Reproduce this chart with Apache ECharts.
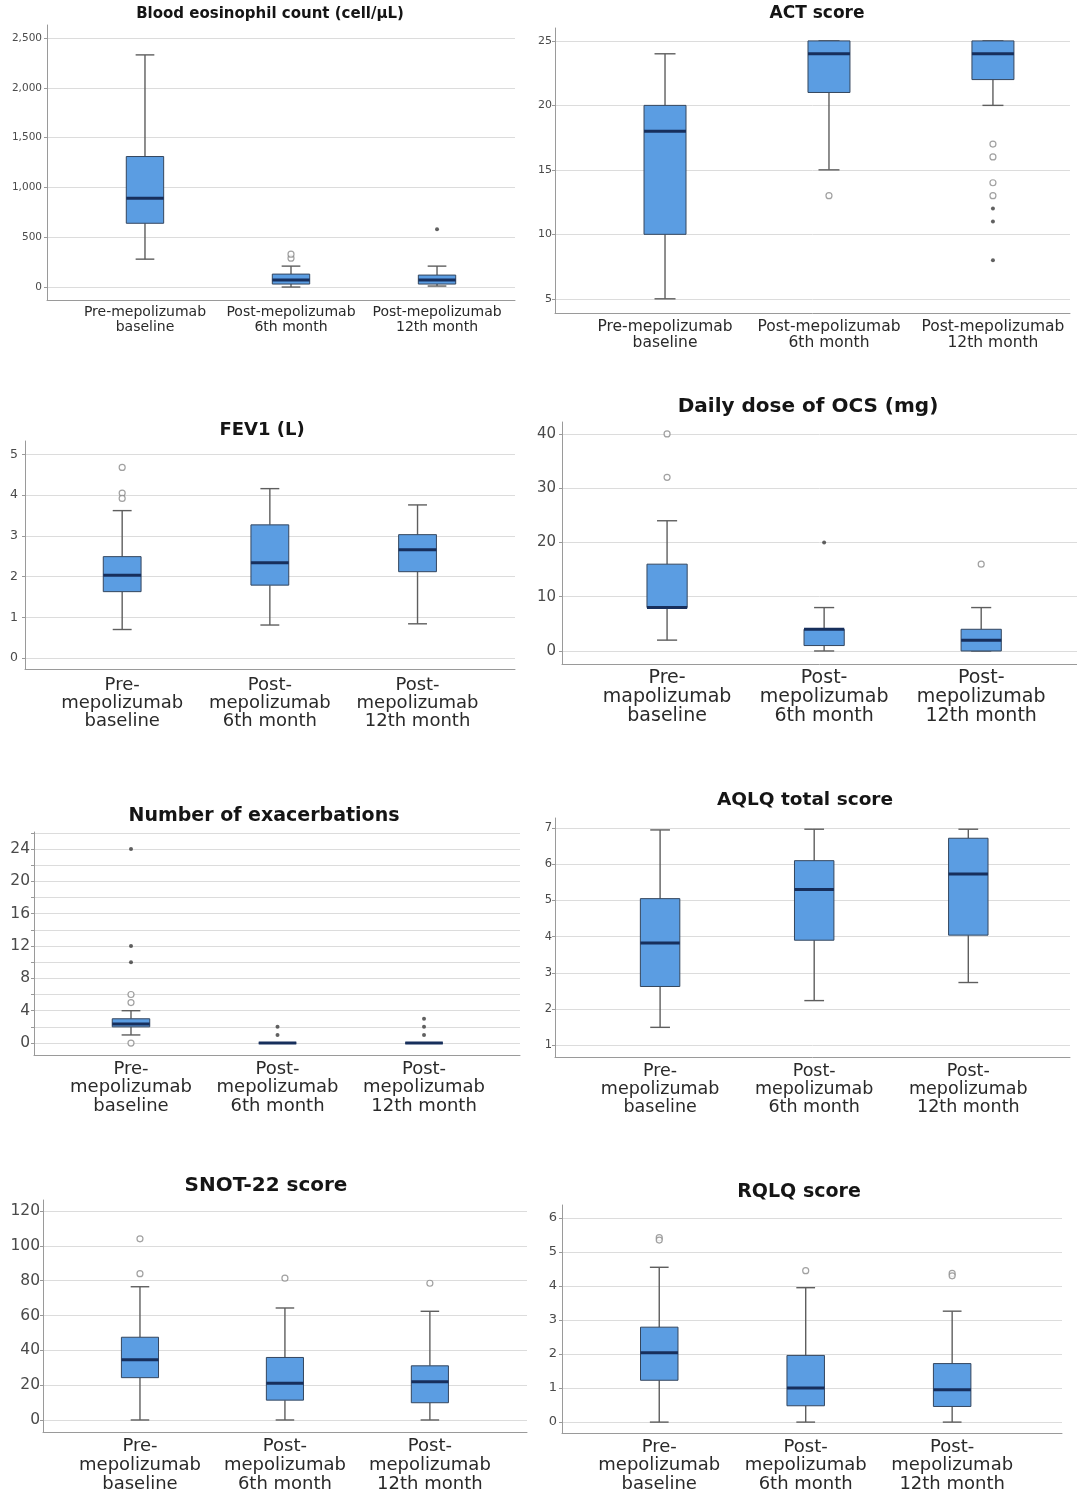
<!DOCTYPE html>
<html>
<head>
<meta charset="utf-8">
<script src="https://cdn.jsdelivr.net/npm/echarts@6/dist/echarts.min.js"></script>
<style>
  html, body { margin: 0; padding: 0; background: #fff; }
  #chart { width: 1077px; height: 1492px; }
</style>
</head>
<body>
<div id="chart"></div>
<script>
// Group labels (three wording/wrapping variants used by the panels)
const catsOneLine = ['Pre-mepolizumab\nbaseline', 'Post-mepolizumab\n6th month', 'Post-mepolizumab\n12th month'];
const catsWrapped = ['Pre-\nmepolizumab\nbaseline', 'Post-\nmepolizumab\n6th month', 'Post-\nmepolizumab\n12th month'];
const catsOcs = ['Pre-\nmapolizumab\nbaseline', 'Post-\nmepolizumab\n6th month', 'Post-\nmepolizumab\n12th month'];

// Five-number summaries per group: [lower whisker, Q1, median, Q3, upper whisker]
const eosBox  = [[280, 640, 890, 1310, 2330], [0, 30, 70, 130, 210], [10, 30, 70, 120, 210]];
const actBox  = [[5, 10, 18, 20, 24], [15, 21, 24, 25, 25], [20, 22, 24, 25, 25]];
const fevBox  = [[0.70, 1.63, 2.03, 2.49, 3.62], [0.81, 1.79, 2.34, 3.27, 4.16], [0.84, 2.12, 2.66, 3.03, 3.76]];
const ocsBox  = [[2, 8, 8, 16, 24], [0, 1, 4, 4, 8], [0, 0, 2, 4, 8]];
const exaBox  = [[1, 2, 2.35, 3, 4], [0, 0, 0, 0, 0], [0, 0, 0, 0, 0]];
const aqlqBox = [[1.49, 2.62, 3.82, 5.05, 6.95], [2.23, 3.9, 5.3, 6.1, 6.97], [2.73, 4.04, 5.73, 6.72, 6.97]];
const snotBox = [[0, 24.3, 34.6, 47.5, 76.5], [0, 11.4, 21.1, 35.9, 64.3], [0, 9.9, 22, 31.1, 62.4]];
const rqlqBox = [[0, 1.23, 2.04, 2.79, 4.55], [0, 0.48, 1.0, 1.96, 3.95], [0, 0.46, 0.95, 1.72, 3.26]];

// Outliers (open circles) and extreme values (asterisks), per group
const eosOut  = [[], [290, 330], []];
const eosExt  = [[], [], [580]];
const actOut  = [[], [13], [17, 16, 14, 13]];
const actExt  = [[], [], [12, 11, 8]];
const fevOut  = [[4.68, 4.05, 3.92], [], []];
const fevExt  = [[], [], []];
const ocsOut  = [[40, 32], [], [16]];
const ocsExt  = [[], [20], []];
const exaOut  = [[6, 5, 0], [], []];
const exaExt  = [[24, 12, 10], [2, 1], [3, 2, 1]];
const aqlqOut = [[], [], []];
const aqlqExt = [[], [], []];
const snotOut = [[104, 84], [81.4], [78.5]];
const snotExt = [[], [], []];
const rqlqOut = [[5.42, 5.35], [4.45], [4.37, 4.30]];
const rqlqExt = [[], [], []];

// Value-axis tick labels and grid lines
const eosTicks  = [0, 500, 1000, 1500, 2000, 2500];
const actTicks  = [5, 10, 15, 20, 25];
const fevTicks  = [0, 1, 2, 3, 4, 5];
const ocsTicks  = [0, 10, 20, 30, 40];
const exaTicks  = [0, 4, 8, 12, 16, 20, 24];
const exaLines  = [0, 2, 4, 6, 8, 10, 12, 14, 16, 18, 20, 22, 24, 26];
const aqlqTicks = [1, 2, 3, 4, 5, 6, 7];
const snotTicks = [0, 20, 40, 60, 80, 100, 120];
const rqlqTicks = [0, 1, 2, 3, 4, 5, 6];

// Styling
const BOX_FILL = '#5b9de2';
const BOX_EDGE = '#34465e';
const MEDIAN = '#172f5c';
const WHISKER = '#5e5e5e';
const GRID = '#dcdcdc';
const AXIS = '#9a9a9a';
const FONT = '"DejaVu Sans", Verdana, sans-serif';
const BOX_HALF = 0.128;   // half box width in category units

const withCommas = v => String(v).replace(/\B(?=(\d{3})+(?!\d))/g, ',');

// Panel layout: plot rectangle, axis ranges, text sizes
const panels = [
  { title: 'Blood eosinophil count (cell/μL)', tx: 270, ty: 14, ts: 15,
    box: eosBox, out: eosOut, ext: eosExt, cats: catsOneLine, ticks: eosTicks, lines: eosTicks, fmt: withCommas,
    l: 47, t: 25, r: 515, b: 300, yMin: -130, yMax: 2630, xMin: -0.671, xMax: 2.534,
    ys: 10.5, ym: 5, cs: 14, ch: 15, cm: 5 },
  { title: 'ACT score', tx: 817, ty: 14, ts: 17,
    box: actBox, out: actOut, ext: actExt, cats: catsOneLine, ticks: actTicks, lines: actTicks,
    l: 555, t: 28, r: 1070, b: 313, yMin: 3.9, yMax: 26, xMin: -0.671, xMax: 2.47,
    ys: 11, ym: 3, cs: 15.5, ch: 16, cm: 6 },
  { title: 'FEV1 (L)', tx: 262, ty: 430, ts: 18,
    box: fevBox, out: fevOut, ext: fevExt, cats: catsWrapped, ticks: fevTicks, lines: fevTicks,
    l: 25, t: 441, r: 515, b: 669, yMin: -0.27, yMax: 5.33, xMin: -0.658, xMax: 2.66,
    ys: 12.5, ym: 7, cs: 18, ch: 18, cm: 7 },
  { title: 'Daily dose of OCS (mg)', tx: 808, ty: 407, ts: 20,
    box: ocsBox, out: ocsOut, ext: ocsExt, cats: catsOcs, ticks: ocsTicks, lines: ocsTicks,
    l: 562, t: 422, r: 1077, b: 664, yMin: -2.4, yMax: 42.2, xMin: -0.669, xMax: 2.61,
    ys: 15, ym: 6, cs: 19, ch: 19, cm: 5 },
  { title: 'Number of exacerbations', tx: 264, ty: 816, ts: 19,
    box: exaBox, out: exaOut, ext: exaExt, cats: catsWrapped, ticks: exaTicks, lines: exaLines,
    l: 34, t: 832, r: 520, b: 1055, yMin: -1.48, yMax: 26.1, xMin: -0.662, xMax: 2.655,
    ys: 15.5, ym: 4, cs: 18, ch: 18.5, cm: 5 },
  { title: 'AQLQ total score', tx: 805, ty: 800, ts: 18.5,
    box: aqlqBox, out: aqlqOut, ext: aqlqExt, cats: catsWrapped, ticks: aqlqTicks, lines: aqlqTicks,
    l: 555, t: 818, r: 1070, b: 1057, yMin: 0.67, yMax: 7.28, xMin: -0.682, xMax: 2.66,
    ys: 11.5, ym: 3, cs: 17.5, ch: 18, cm: 5 },
  { title: 'SNOT-22 score', tx: 266, ty: 1186, ts: 20,
    box: snotBox, out: snotOut, ext: snotExt, cats: catsWrapped, ticks: snotTicks, lines: snotTicks,
    l: 43, t: 1200, r: 527, b: 1432, yMin: -6.9, yMax: 126.3, xMin: -0.669, xMax: 2.67,
    ys: 15.5, ym: 3, cs: 18, ch: 19, cm: 4.5 },
  { title: 'RQLQ score', tx: 799, ty: 1192, ts: 19,
    box: rqlqBox, out: rqlqOut, ext: rqlqExt, cats: catsWrapped, ticks: rqlqTicks, lines: rqlqTicks,
    l: 562, t: 1205, r: 1062, b: 1433, yMin: -0.32, yMax: 6.38, xMin: -0.664, xMax: 2.75,
    ys: 13, ym: 5, cs: 18, ch: 18.5, cm: 5 }
];

// Draws one box: whiskers with half-width caps, the IQR box and a heavy median bar
function renderBox(params, api) {
  const i = api.value(0);
  const v = [api.value(1), api.value(2), api.value(3), api.value(4), api.value(5)];
  const xL = api.coord([i - BOX_HALF, v[2]])[0];
  const xR = api.coord([i + BOX_HALF, v[2]])[0];
  const cx = api.coord([i, v[2]])[0];
  const capL = api.coord([i - BOX_HALF / 2, v[2]])[0];
  const capR = api.coord([i + BOX_HALF / 2, v[2]])[0];
  const y = v.map(val => api.coord([i, val])[1]);
  const ws = { stroke: WHISKER, lineWidth: 1.4 };
  return {
    type: 'group',
    children: [
      { type: 'line', shape: { x1: cx, y1: y[4], x2: cx, y2: y[3] }, style: ws },
      { type: 'line', shape: { x1: cx, y1: y[0], x2: cx, y2: y[1] }, style: ws },
      { type: 'line', shape: { x1: capL, y1: y[4], x2: capR, y2: y[4] }, style: ws },
      { type: 'line', shape: { x1: capL, y1: y[0], x2: capR, y2: y[0] }, style: ws },
      { type: 'rect', shape: { x: xL, y: y[3], width: xR - xL, height: y[1] - y[3] },
        style: { fill: BOX_FILL, stroke: BOX_EDGE, lineWidth: 1 } },
      { type: 'line', shape: { x1: xL, y1: y[2], x2: xR, y2: y[2] }, style: { stroke: MEDIAN, lineWidth: 3 } }
    ]
  };
}

const pairs = groups => groups.flatMap((vals, i) => vals.map(v => [i, v]));

const option = {
  backgroundColor: '#fff',
  animation: false,
  title: [], grid: [], xAxis: [], yAxis: [], series: []
};

panels.forEach((p, k) => {
  option.title.push({
    text: p.title, left: p.tx, top: p.ty, textAlign: 'center', textVerticalAlign: 'middle', padding: 0,
    textStyle: { fontFamily: FONT, fontSize: p.ts, fontWeight: 'bold', color: '#151515' }
  });
  option.grid.push({
    left: p.l, top: p.t, width: p.r - p.l, height: p.b - p.t,
    containLabel: false, outerBoundsMode: 'none'
  });
  option.xAxis.push({
    type: 'value', gridIndex: k, min: p.xMin, max: p.xMax,
    axisLine: { show: true, onZero: false, lineStyle: { color: AXIS, width: 1 } },
    axisTick: { show: false },
    splitLine: { show: false },
    axisLabel: {
      customValues: [0, 1, 2],
      formatter: v => p.cats[Math.round(v)],
      fontFamily: FONT, fontSize: p.cs, lineHeight: p.ch, color: '#2a2a2a', margin: p.cm,
      verticalAlign: 'top'
    }
  });
  option.yAxis.push({
    type: 'value', gridIndex: k, min: p.yMin, max: p.yMax,
    axisLine: { show: true, onZero: false, lineStyle: { color: AXIS, width: 1 } },
    axisTick: { show: true, length: 3, customValues: p.lines, lineStyle: { color: AXIS } },
    splitLine: { show: true, lineStyle: { color: GRID, width: 1 } },
    axisLabel: {
      customValues: p.ticks,
      formatter: p.fmt ? p.fmt : (v => String(v)),
      fontFamily: FONT, fontSize: p.ys, color: '#4a4a4a', margin: p.ym
    }
  });
  option.series.push({
    type: 'custom', xAxisIndex: k, yAxisIndex: k, clip: false, z: 2,
    renderItem: renderBox,
    encode: { x: 0, y: [1, 2, 3, 4, 5] },
    data: p.box.map((b, i) => [i].concat(b))
  });
  option.series.push({
    type: 'scatter', xAxisIndex: k, yAxisIndex: k, z: 3,
    symbol: 'circle', symbolSize: 6,
    itemStyle: { color: '#fff', borderColor: '#8a8a8a', borderWidth: 1.2 },
    data: pairs(p.out)
  });
  option.series.push({
    type: 'scatter', xAxisIndex: k, yAxisIndex: k, z: 3,
    symbol: 'circle', symbolSize: 4,
    itemStyle: { color: '#3a3a3a' },
    data: pairs(p.ext)
  });
});

const chart = echarts.init(document.getElementById('chart'));
chart.setOption(option);
</script>
</body>
</html>
